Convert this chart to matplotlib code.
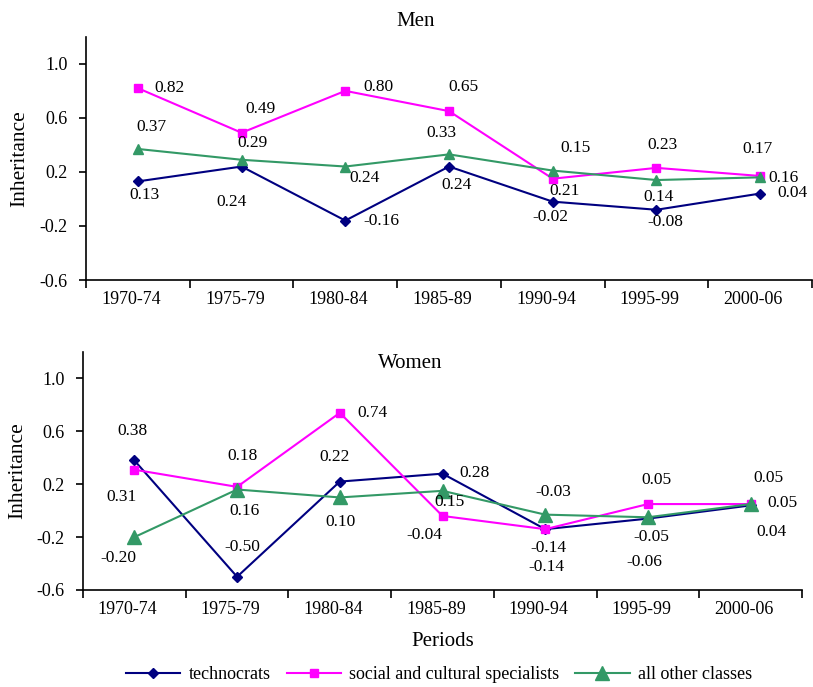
import numpy as np
import matplotlib.pyplot as plt

plt.rcParams['font.family'] = ['Liberation Serif', 'DejaVu Serif']

periods = ['1970-74', '1975-79', '1980-84', '1985-89', '1990-94', '1995-99', '2000-06']

men_tech = [0.13, 0.24, -0.16, 0.24, -0.02, -0.08, 0.04]
men_social = [0.82, 0.49, 0.80, 0.65, 0.15, 0.23, 0.17]
men_other = [0.37, 0.29, 0.24, 0.33, 0.21, 0.14, 0.16]

women_tech = [0.38, -0.50, 0.22, 0.28, -0.14, -0.06, 0.04]
women_social = [0.31, 0.18, 0.74, -0.04, -0.14, 0.05, 0.05]
women_other = [-0.20, 0.16, 0.10, 0.15, -0.03, -0.05, 0.05]

# label offsets in pixels (dx right, dy down) from each point
men_off = {
    'tech': [(7, 14), (-10, 35), (36, 0), (8, 18), (-2, 15), (9, 12), (32, -1)],
    'social': [(32, 0), (19, -24), (33, -4), (14, -24), (23, -31), (6, -23), (-3, -27)],
    'other': [(14, -22), (11, -17), (19, 11), (-8, -21), (12, 20), (2, 17), (23, 1)],
}
women_off = {
    'tech': [(-2, -29), (5, -30), (-5, -25), (32, -1), (1, 38), (-4, 43), (21, 27)],
    'social': [(-13, 27), (5, -31), (33, 0), (-18, 19), (3, 19), (8, -24), (18, -26)],
    'other': [(-16, 21), (7, 21), (1, 25), (7, 11), (8, -23), (3, 20), (32, -1)],
}

c_tech = '#000080'
c_social = '#FF00FF'
c_other = '#339966'


def draw(ax, tech, social, other, offs, tri_size):
    x = np.arange(len(periods))
    ax.plot(x, tech, color=c_tech, lw=1.5, marker='D', ms=5, label='technocrats')
    ax.plot(x, social, color=c_social, lw=1.5, marker='s', ms=6,
            label='social and cultural specialists')
    ax.plot(x, other, color=c_other, lw=1.5, marker='^', ms=tri_size, label='all other classes')
    for key, vals in [('tech', tech), ('social', social), ('other', other)]:
        for i, v in enumerate(vals):
            dx, dy = offs[key][i]
            ax.annotate('%.2f' % v, (x[i], v), xytext=(dx, -dy), textcoords='offset pixels',
                        ha='center', va='center', fontsize=12.5)
    ax.set_xlim(-0.5, 6.5)
    ax.set_ylim(-0.6, 1.2)
    ax.set_yticks([-0.6, -0.2, 0.2, 0.6, 1.0])
    ax.set_yticklabels(['-0.6', '-0.2', '0.2', '0.6', '1.0'], fontsize=13)
    ax.set_xticks(np.arange(-0.5, 7, 1))
    ax.set_xticklabels([])
    # category labels sit a little left of the points, as in the original
    ax.set_xticks(x - 0.065, minor=True)
    ax.set_xticklabels(periods, minor=True, fontsize=13)
    ax.tick_params(axis='x', which='major', length=6, width=1.2)
    ax.tick_params(axis='x', which='minor', length=0, pad=8)
    ax.tick_params(axis='y', length=5, width=1.2, pad=8)
    ax.spines['top'].set_visible(False)
    ax.spines['right'].set_visible(False)
    ax.spines['left'].set_linewidth(1.2)
    ax.spines['bottom'].set_linewidth(1.2)
    ax.set_ylabel('Inheritance', fontsize=15.5)


fig = plt.figure(figsize=(8.13, 6.87), dpi=100)
ax1 = fig.add_axes([0.1058, 0.5924, 0.893, 0.354])
ax2 = fig.add_axes([0.1021, 0.1412, 0.8844, 0.3464])

draw(ax1, men_tech, men_social, men_other, men_off, 6.5)
draw(ax2, women_tech, women_social, women_other, women_off, 9.5)
ax1.yaxis.set_label_coords(-0.078, 0.5)
ax2.yaxis.set_label_coords(-0.078, 0.5)

fig.text(0.511, 0.968, 'Men', ha='center', va='center', fontsize=15)
fig.text(0.505, 0.471, 'Women', ha='center', va='center', fontsize=15)
fig.text(0.544, 0.066, 'Periods', ha='center', va='center', fontsize=15)

h, l = ax2.get_legend_handles_labels()
fig.legend(h, l, loc='center', bbox_to_anchor=(0.54, 0.018), ncol=3, frameon=False,
           fontsize=13, handlelength=3.0, handletextpad=0.45, columnspacing=0.9,
           borderpad=0.1)

fig.savefig('out.png', dpi=100)
